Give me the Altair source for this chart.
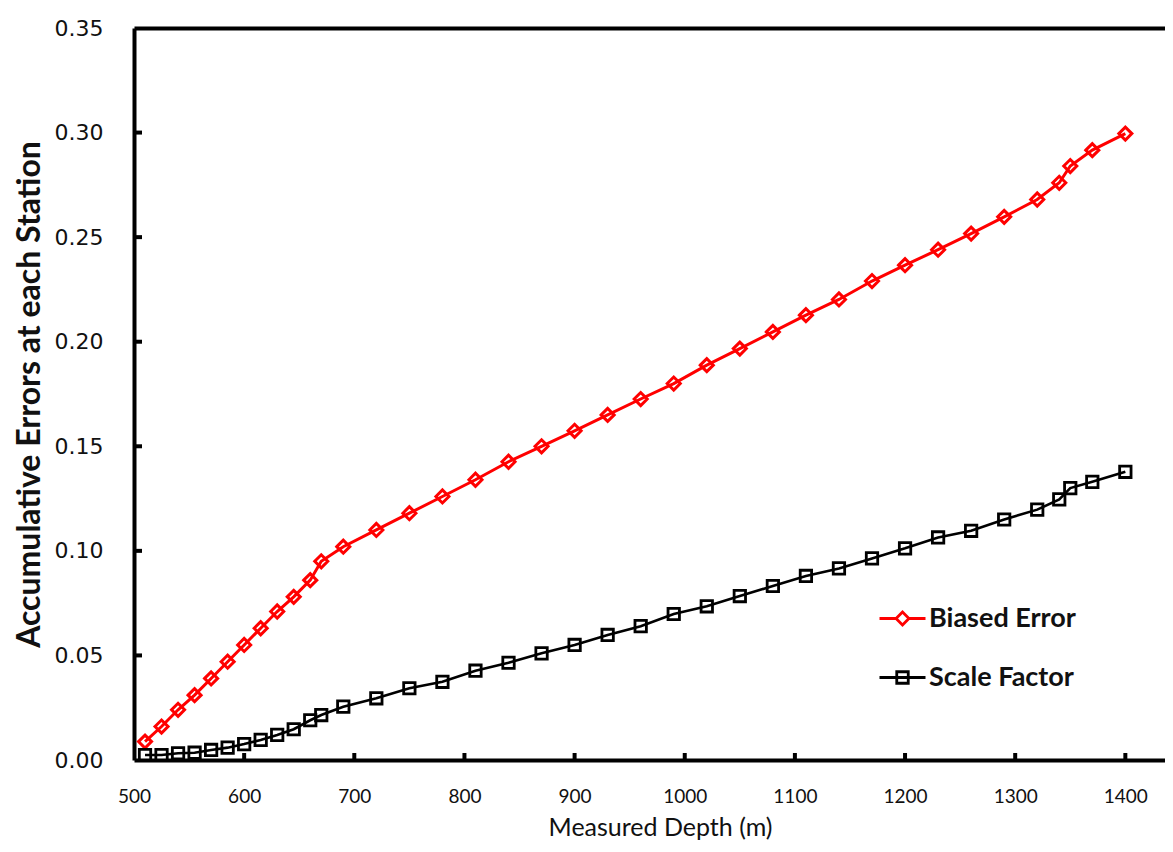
import altair as alt
import pandas as pd

# ---- data ----
depth = [510, 525, 540, 555, 570, 585, 600, 615, 630, 645, 660, 670, 690, 720,
         750, 780, 810, 840, 870, 900, 930, 960, 990, 1020, 1050, 1080, 1110,
         1140, 1170, 1200, 1230, 1260, 1290, 1320, 1340, 1350, 1370, 1400]
biased_error = [0.0088, 0.016, 0.024, 0.031, 0.039, 0.047, 0.055, 0.063, 0.071,
                0.078, 0.086, 0.095, 0.102, 0.110, 0.118, 0.126, 0.134, 0.1426,
                0.150, 0.1574, 0.165, 0.1726, 0.180, 0.1888, 0.1967, 0.2047,
                0.2127, 0.2202, 0.229, 0.2366, 0.244, 0.2517, 0.2597, 0.268,
                0.276, 0.284, 0.2916, 0.2995]
scale_factor = [0.0024, 0.0024, 0.0032, 0.0035, 0.0048, 0.0059, 0.0076, 0.0096,
                0.012, 0.0147, 0.019, 0.0215, 0.0255, 0.0295, 0.0343, 0.0374,
                0.0427, 0.0465, 0.051, 0.055, 0.0598, 0.064, 0.0698, 0.0735,
                0.0784, 0.0832, 0.088, 0.0916, 0.0964, 0.1012, 0.1064, 0.1096,
                0.115, 0.1197, 0.1246, 0.130, 0.133, 0.1378]
series_names = ["Biased Error", "Scale Factor"]
series_colors = ["#ff0000", "#000000"]
x_ticks = [500, 600, 700, 800, 900, 1000, 1100, 1200, 1300, 1400]
y_ticks = [0.0, 0.05, 0.10, 0.15, 0.20, 0.25, 0.30, 0.35]

df = pd.DataFrame({
    "depth": depth + depth,
    "value": biased_error + scale_factor,
    "series": [series_names[0]] * len(depth) + [series_names[1]] * len(depth),
})
xtick_df = pd.DataFrame({"tx": x_ticks[1:]})
ytick_df = pd.DataFrame({"ty": y_ticks[1:-1]})

W, H = 1031, 732
xs = alt.Scale(domain=[500, 1436], nice=False, zero=False)
ys = alt.Scale(domain=[0, 0.35], nice=False)
cs = alt.Scale(domain=series_names, range=series_colors)

legend_paths = [
    "M-1,0H-0.28M0.28,0H1M0,-0.28L0.28,0L0,0.28L-0.28,0Z",
    "M-1,0H1M-0.25,-0.25H0.25V0.25H-0.25Z",
]

base = alt.Chart(df)
red_data = base.transform_filter(alt.datum.series == series_names[0])
black_data = base.transform_filter(alt.datum.series == series_names[1])

# main axes: labels + domain, no ticks
main_x_axis = alt.Axis(values=x_ticks, format="d", title="Measured Depth (m)", grid=False,
                       ticks=False, tickSize=0, domainWidth=4, domainColor="#000",
                       labelFont="Lato", labelFontSize=19, labelFontWeight="normal",
                       labelColor="#111", labelPadding=27, labelFlush=False,
                       titleFont="Lato", titleFontSize=25, titleFontWeight="normal",
                       titleColor="#111", titlePadding=9, titleX=526)
main_y_axis = alt.Axis(values=y_ticks, format=".2f",
                       title="Accumulative Errors at each Station", grid=False,
                       ticks=False, tickSize=0, domainWidth=4, domainColor="#000",
                       labelFont="DejaVu Sans", labelFontSize=22, labelColor="#111",
                       labelPadding=31, labelFlush=False,
                       titleFont="Lato", titleFontSize=32, titleFontWeight="bold",
                       titleColor="#111", titlePadding=8)

line_red = red_data.mark_line(strokeWidth=3, color=series_colors[0]).encode(
    x=alt.X("depth:Q", scale=xs, axis=main_x_axis),
    y=alt.Y("value:Q", scale=ys, axis=main_y_axis),
)
line_black = black_data.mark_line(strokeWidth=2.6, color=series_colors[1]).encode(
    x=alt.X("depth:Q", scale=xs, axis=None),
    y=alt.Y("value:Q", scale=ys, axis=None),
)

# inward tick marks drawn through the scales from the tick arrays
xtick_rules = alt.Chart(xtick_df).mark_rule(color="#000", strokeWidth=4).encode(
    x=alt.X("tx:Q", scale=xs, axis=None),
    y=alt.value(H),
    y2=alt.value(H - 7),
)
ytick_rules = alt.Chart(ytick_df).mark_rule(color="#000", strokeWidth=4).encode(
    y=alt.Y("ty:Q", scale=ys, axis=None),
    x=alt.value(0),
    x2=alt.value(8),
)

pts_red = red_data.mark_point(
    shape="diamond", filled=False, color=series_colors[0], size=170,
    strokeWidth=3, opacity=1
).encode(
    x=alt.X("depth:Q", scale=xs, axis=None),
    y=alt.Y("value:Q", scale=ys, axis=None),
)

top_axis = alt.Axis(orient="top", domain=True, domainWidth=4, domainColor="#000",
                    labels=False, ticks=False, grid=False, title=None)

pts_black = black_data.mark_point(
    shape="square", filled=False, color=series_colors[1], size=130,
    strokeWidth=2.8, opacity=1
).encode(
    x=alt.X("depth:Q", scale=xs, axis=top_axis),
    y=alt.Y("value:Q", scale=ys, axis=None),
)

leg = alt.Legend(title=None, orient="none", legendX=744, legendY=566,
                 symbolSize=2116, symbolStrokeWidth=2.8, symbolOpacity=1,
                 symbolFillColor="transparent",
                 labelFont="Lato", labelFontSize=27, labelFontWeight="bold",
                 labelColor="#111", labelOffset=2, rowPadding=21, padding=0,
                 labelLimit=400)

legend_layer = base.mark_point(opacity=0, filled=False).encode(
    x=alt.X("depth:Q", scale=xs, axis=None),
    y=alt.Y("value:Q", scale=ys, axis=None),
    color=alt.Color("series:N", scale=cs, legend=leg),
    shape=alt.Shape("series:N", scale=alt.Scale(domain=series_names, range=legend_paths),
                    legend=leg),
)

chart = alt.layer(line_red, line_black, xtick_rules, ytick_rules, pts_red, pts_black,
                  legend_layer).resolve_axis(
    x="independent", y="independent"
).properties(
    width=W, height=H, autosize="none",
    padding={"left": 126, "top": 20, "right": 0, "bottom": 88},
    background="white",
).configure_view(stroke=None)

chart.save("out.html", embed_options={"renderer": "svg", "actions": False})
